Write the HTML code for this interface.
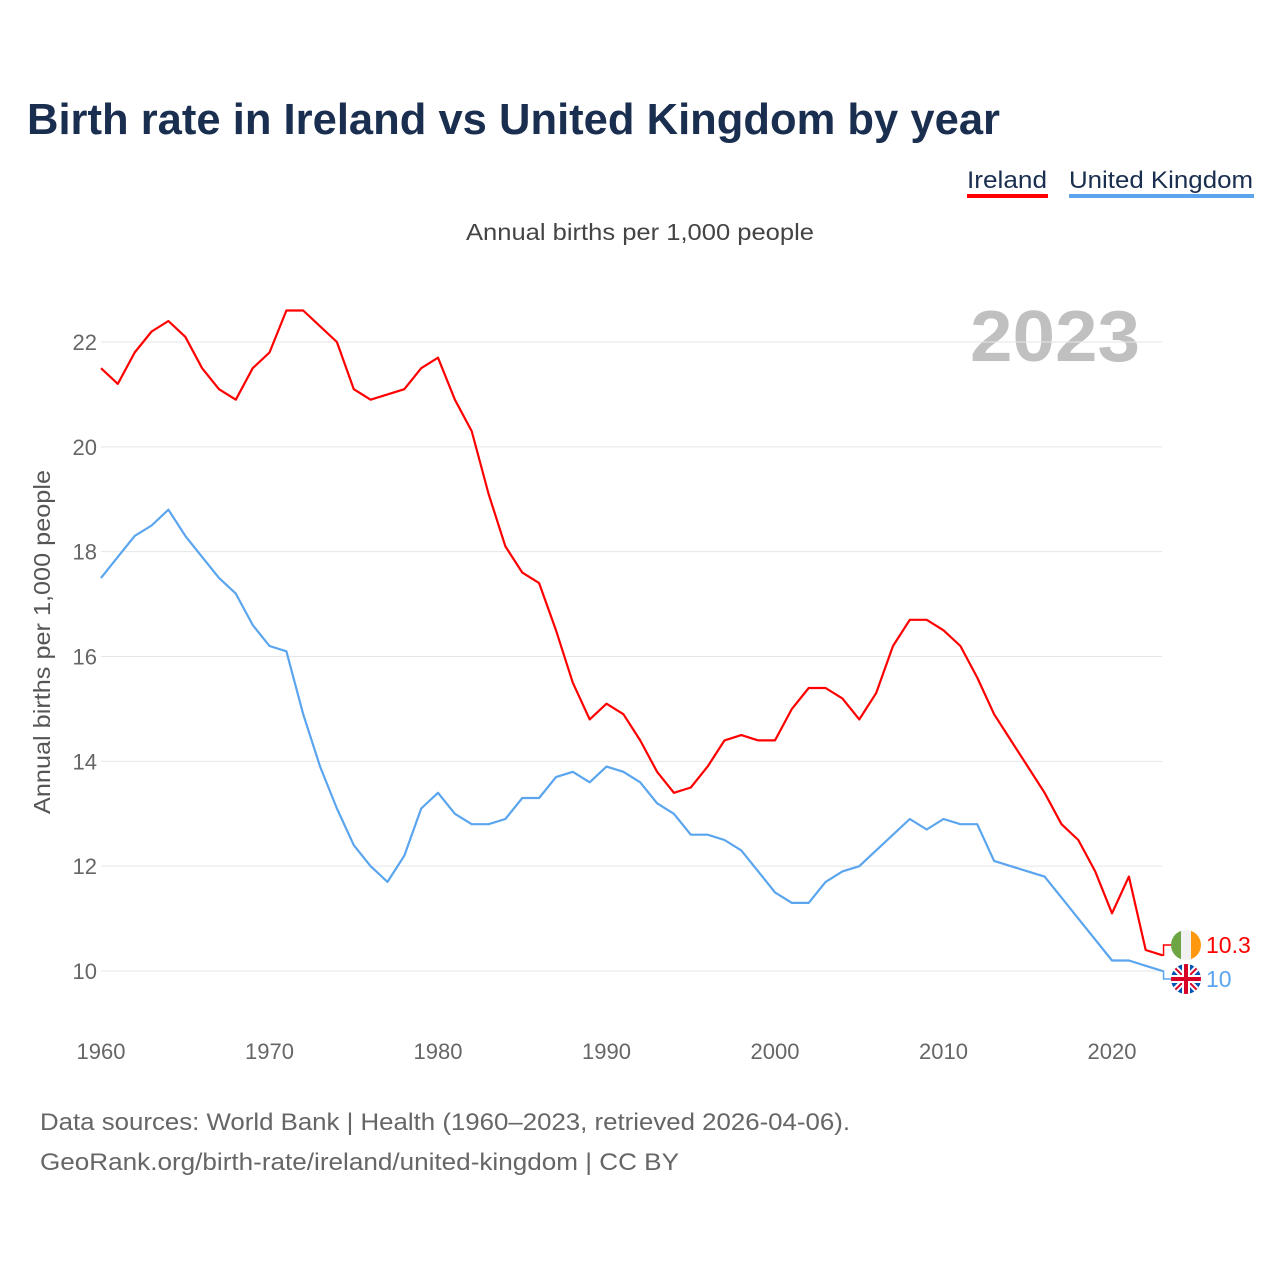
<!DOCTYPE html>
<html><head><meta charset="utf-8"><style>
body{margin:0;background:#fff;font-family:"Liberation Sans",sans-serif}
</style></head><body>
<svg width="1280" height="1280" xmlns="http://www.w3.org/2000/svg" style="font-family:'Liberation Sans',sans-serif">
<rect width="1280" height="1280" fill="#fff"/>
<text x="27" y="134" font-size="44" font-weight="bold" fill="#1a2e4f" textLength="973" lengthAdjust="spacingAndGlyphs">Birth rate in Ireland vs United Kingdom by year</text>
<g><text x="967" y="188" font-size="24" fill="#1a2e4f" textLength="80" lengthAdjust="spacingAndGlyphs">Ireland</text><rect x="967" y="194" width="81" height="4" fill="#ff0000"/></g>
<g><text x="1069" y="188" font-size="24" fill="#1a2e4f" textLength="184" lengthAdjust="spacingAndGlyphs">United Kingdom</text><rect x="1069" y="194" width="185" height="4" fill="#5aa5ee"/></g>
<text x="640" y="240" font-size="23" fill="#444" text-anchor="middle" textLength="348" lengthAdjust="spacingAndGlyphs">Annual births per 1,000 people</text>
<text x="1140" y="361" font-size="72" font-weight="bold" fill="#c0c0c0" text-anchor="end" textLength="170" lengthAdjust="spacingAndGlyphs">2023</text>
<text transform="translate(50,642) rotate(-90)" font-size="23" fill="#555" text-anchor="middle" textLength="344" lengthAdjust="spacingAndGlyphs">Annual births per 1,000 people</text>
<g id="grid"></g><g id="lines"></g><g id="labels"></g>
<text x="40" y="1130" font-size="24" fill="#666" textLength="810" lengthAdjust="spacingAndGlyphs">Data sources: World Bank | Health (1960–2023, retrieved 2026-04-06).</text>
<text x="40" y="1170" font-size="24" fill="#666" textLength="639" lengthAdjust="spacingAndGlyphs">GeoRank.org/birth-rate/ireland/united-kingdom | CC BY</text>
</svg>
<script>
const years=[];for(let y=1960;y<=2023;y++)years.push(y);
const ireland=[21.5,21.2,21.8,22.2,22.4,22.1,21.5,21.1,20.9,21.5,21.8,22.6,22.6,22.3,22.0,21.1,20.9,21.0,21.1,21.5,21.7,20.9,20.3,19.1,18.1,17.6,17.4,16.5,15.5,14.8,15.1,14.9,14.4,13.8,13.4,13.5,13.9,14.4,14.5,14.4,14.4,15.0,15.4,15.4,15.2,14.8,15.3,16.2,16.7,16.7,16.5,16.2,15.6,14.9,14.4,13.9,13.4,12.8,12.5,11.9,11.1,11.8,10.4,10.3];
const uk=[17.5,17.9,18.3,18.5,18.8,18.3,17.9,17.5,17.2,16.6,16.2,16.1,14.9,13.9,13.1,12.4,12.0,11.7,12.2,13.1,13.4,13.0,12.8,12.8,12.9,13.3,13.3,13.7,13.8,13.6,13.9,13.8,13.6,13.2,13.0,12.6,12.6,12.5,12.3,11.9,11.5,11.3,11.3,11.7,11.9,12.0,12.3,12.6,12.9,12.7,12.9,12.8,12.8,12.1,12.0,11.9,11.8,11.4,11.0,10.6,10.2,10.2,10.1,10.0];
const yTicks=[10,12,14,16,18,20,22];
const xTicks=[1960,1970,1980,1990,2000,2010,2020];
const NS='http://www.w3.org/2000/svg';
const xs=y=>101+(y-1960)*(1011/60);
const ys=v=>971-(v-10)*(629/12);
function mk(tag,attrs,parent,txt){const e=document.createElementNS(NS,tag);for(const k in attrs)e.setAttribute(k,attrs[k]);if(txt!==undefined)e.textContent=txt;document.getElementById(parent).appendChild(e);return e;}
yTicks.forEach(t=>{
 const l=mk('line',{x1:101,x2:1162,y1:ys(t),y2:ys(t),stroke:'#e6e6e6','stroke-width':1},'grid');
 
 
 const tx=mk('text',{x:97,y:ys(t)+8,'font-size':22,fill:'#666','text-anchor':'end'},'grid',t);
 
 
});
xTicks.forEach(t=>{
 const tx=mk('text',{x:xs(t),y:1059,'font-size':22,fill:'#666','text-anchor':'middle'},'grid',t);
 
 
});
function line(data,color,name){
 const d=data.map((v,i)=>(i?'L':'M')+xs(years[i]).toFixed(1)+','+ys(v).toFixed(1)).join('');
 const p=mk('path',{d:d,fill:'none',stroke:color,'stroke-width':2.2,'stroke-linejoin':'round'},'lines');
 
 
}
line(ireland,'#ff0000','ireland-line');
line(uk,'#5aa5ee','united-kingdom-line');
const lastX=xs(2023);
function endLabel(v,yPos,color,name,flag){
 mk('path',{d:`M${lastX},${ys(v)}H${lastX+1}V${yPos}H1172`,fill:'none',stroke:color,'stroke-width':1.5},'labels');
 const g=mk('g',{},'labels');
 
 
 const cx=1186;
 if(flag==='ie'){
  const cp=document.createElementNS(NS,'clipPath');cp.setAttribute('id','cie');
  const c=document.createElementNS(NS,'circle');c.setAttribute('cx',cx);c.setAttribute('cy',yPos);c.setAttribute('r',15);cp.appendChild(c);g.appendChild(cp);
  const gg=document.createElementNS(NS,'g');gg.setAttribute('clip-path','url(#cie)');g.appendChild(gg);
  [['#6da544',-15],['#f0f0f0',-5],['#ff9811',5]].forEach(([f,o])=>{const r=document.createElementNS(NS,'rect');r.setAttribute('x',cx+o);r.setAttribute('y',yPos-15);r.setAttribute('width',10);r.setAttribute('height',30);r.setAttribute('fill',f);gg.appendChild(r);});
 }else{
  const cp=document.createElementNS(NS,'clipPath');cp.setAttribute('id','cuk');
  const c=document.createElementNS(NS,'circle');c.setAttribute('cx',cx);c.setAttribute('cy',yPos);c.setAttribute('r',15);cp.appendChild(c);g.appendChild(cp);
  const gg=document.createElementNS(NS,'g');gg.setAttribute('clip-path','url(#cuk)');g.appendChild(gg);
  gg.innerHTML=`<rect x="${cx-15}" y="${yPos-15}" width="30" height="30" fill="#0052b4"/><path d="M${cx-15},${yPos-15}L${cx+15},${yPos+15}M${cx+15},${yPos-15}L${cx-15},${yPos+15}" stroke="#fff" stroke-width="6"/><path d="M${cx-15},${yPos-15}L${cx+15},${yPos+15}M${cx+15},${yPos-15}L${cx-15},${yPos+15}" stroke="#d80027" stroke-width="2"/><path d="M${cx},${yPos-15}V${yPos+15}M${cx-15},${yPos}H${cx+15}" stroke="#fff" stroke-width="8"/><path d="M${cx},${yPos-15}V${yPos+15}M${cx-15},${yPos}H${cx+15}" stroke="#d80027" stroke-width="4"/>`;
 }
 const t=document.createElementNS(NS,'text');t.setAttribute('x',1206);t.setAttribute('y',yPos+8);t.setAttribute('font-size',23);t.setAttribute('fill',color);t.textContent=String(v);g.appendChild(t);
}
endLabel(ireland[ireland.length-1],945,'#ff0000','ireland-end-label','ie');
endLabel(uk[uk.length-1],979,'#5aa5ee','united-kingdom-end-label','uk');
</script>
</body></html>
